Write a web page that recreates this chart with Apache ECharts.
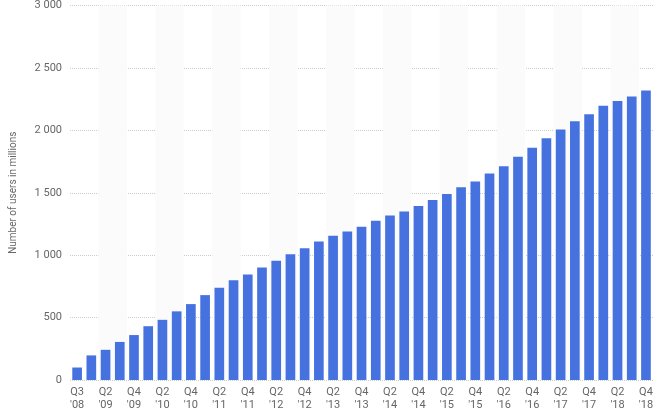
<!DOCTYPE html>
<html><head><meta charset="utf-8">
<script src="https://cdn.jsdelivr.net/npm/echarts@6/dist/echarts.min.js"></script>
<style>html,body{margin:0;padding:0;background:#fff}#c{width:656px;height:412px}</style>
</head><body><div id="c"></div>
<script>
const categories=["Q3 '08","Q1 '09","Q2 '09","Q3 '09","Q4 '09","Q1 '10","Q2 '10","Q3 '10","Q4 '10","Q1 '11","Q2 '11","Q3 '11","Q4 '11","Q1 '12","Q2 '12","Q3 '12","Q4 '12","Q1 '13","Q2 '13","Q3 '13","Q4 '13","Q1 '14","Q2 '14","Q3 '14","Q4 '14","Q1 '15","Q2 '15","Q3 '15","Q4 '15","Q1 '16","Q2 '16","Q3 '16","Q4 '16","Q1 '17","Q2 '17","Q3 '17","Q4 '17","Q1 '18","Q2 '18","Q3 '18","Q4 '18"];
const users=[100,197,242,305,360,431,482,550,608,680,739,800,845,901,955,1007,1056,1110,1155,1189,1228,1276,1317,1350,1393,1441,1490,1545,1591,1654,1712,1788,1860,1936,2006,2072,2129,2196,2234,2271,2320];
const yTicks={min:0,max:3000,interval:500};
const chart=echarts.init(document.getElementById('c'));
chart.setOption({
 animation:false,
 grid:{left:62,right:2,top:5,bottom:30},
 xAxis:{type:'category',data:categories,
  axisLine:{show:false},axisTick:{show:false},
  splitArea:{show:true,interval:1,areaStyle:{color:['rgba(0,0,0,0)','#fbfbfb']}},
  axisLabel:{interval:1,color:'#666',fontSize:11,fontFamily:'Roboto',lineHeight:13,margin:6,
   formatter:v=>v.replace(' ','\n')}},
 yAxis:{type:'value',min:yTicks.min,max:yTicks.max,interval:yTicks.interval,
  name:'Number of users in millions',nameLocation:'middle',nameGap:52,
  nameTextStyle:{color:'#666',fontSize:10,fontFamily:'Roboto'},
  axisLabel:{color:'#666',fontSize:11,fontFamily:'Roboto',formatter:v=>String(v).replace(/\B(?=(\d{3})+(?!\d))/g,' ')},
  splitLine:{lineStyle:{color:'#ccc',type:'dotted'}}},
 series:[{type:'bar',data:users,barWidth:'68%',itemStyle:{color:'#4672e0'}}]
});
</script></body></html>
